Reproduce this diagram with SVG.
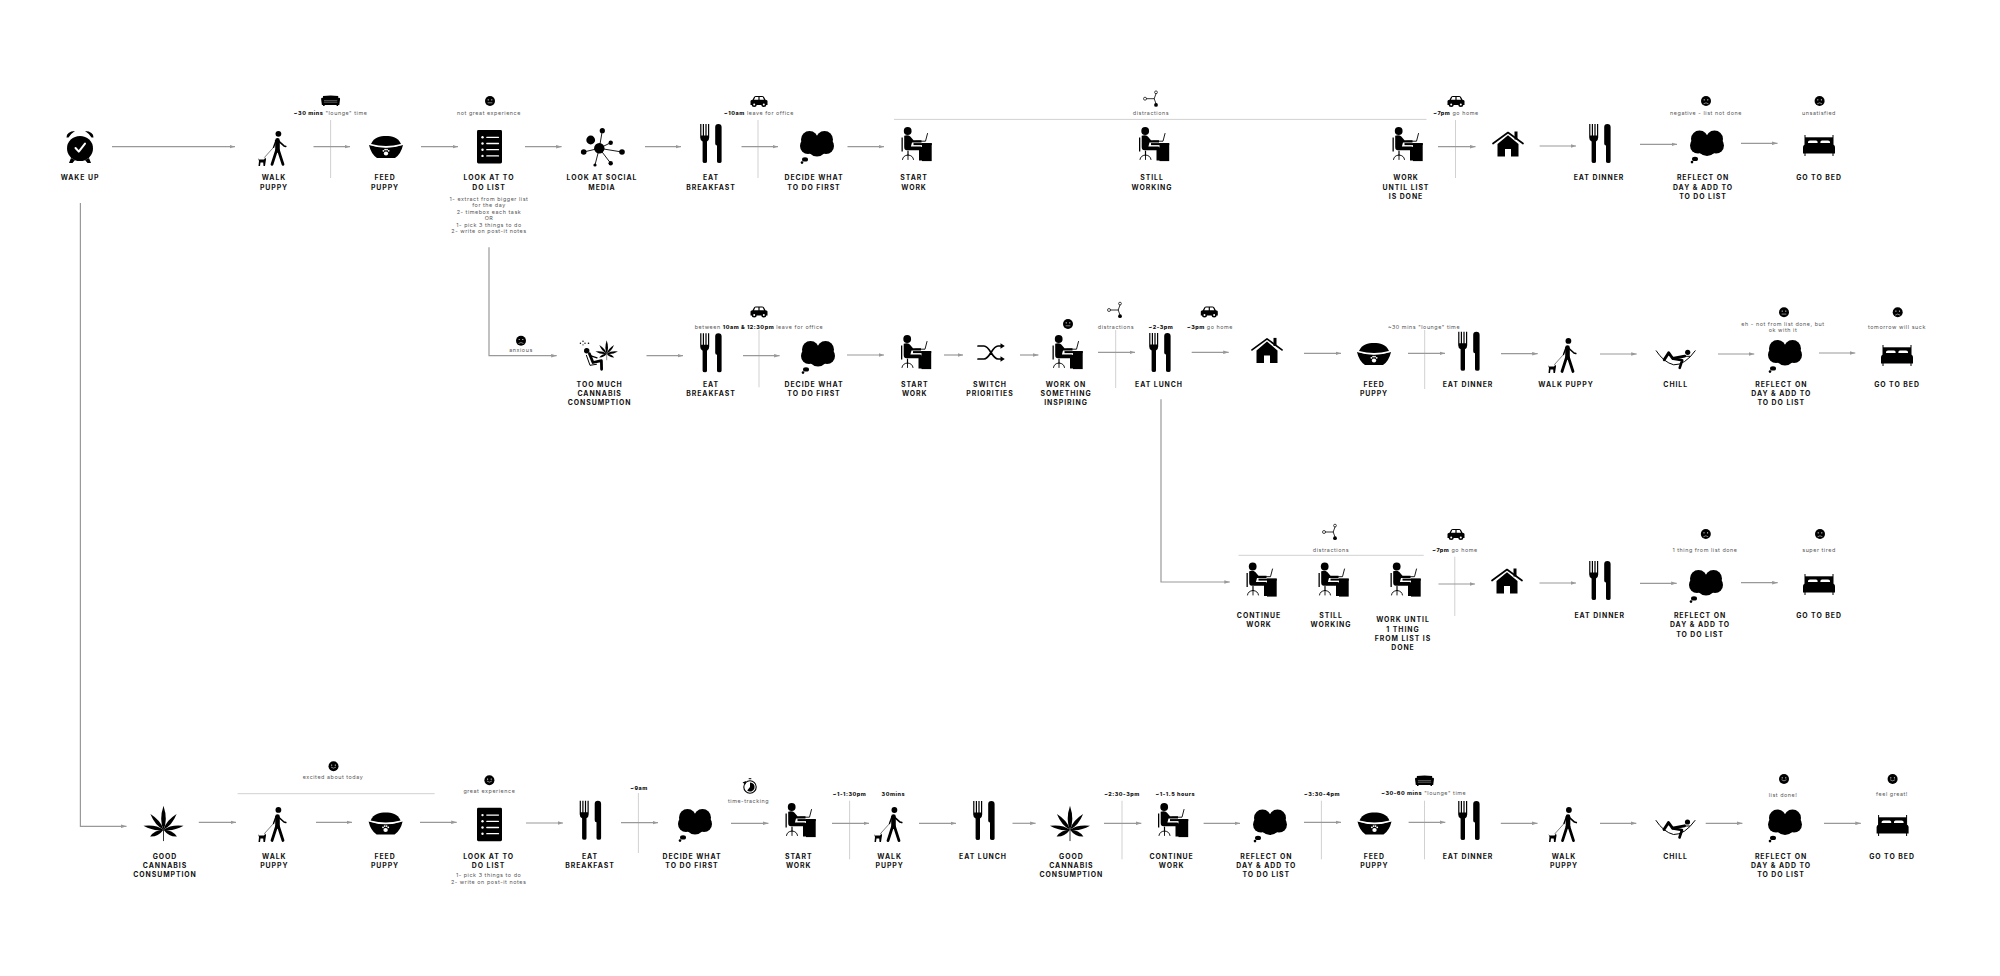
<svg xmlns="http://www.w3.org/2000/svg" width="2000" height="976" viewBox="0 0 2000 976">
<style>
text{font-family:Inter,"Liberation Sans",sans-serif;text-anchor:middle}
.l{font-size:6.9px;font-weight:700;letter-spacing:.95px;fill:#111}
.s{font-size:5.4px;font-weight:400;letter-spacing:.55px;fill:#555}
.s tspan.b,.b{font-weight:800;fill:#111}
.c line,.c path{fill:none;stroke:#999;stroke-width:1.2}
.c .a{marker-end:url(#ah)}
.c .t,.c .h{stroke:#ccc;stroke-width:.9}
.k{fill:none;stroke:#000;stroke-linecap:round;stroke-linejoin:round}
.w{fill:#fff}
.wk{fill:none;stroke:#fff;stroke-linecap:round;stroke-linejoin:round}
</style>
<defs>
<marker id="ah" markerUnits="userSpaceOnUse" markerWidth="6" markerHeight="4" refX="5.5" refY="2" orient="auto"><path d="M0 0.2L5.5 2L0 3.8Z" fill="#999"/></marker>
<g id="i-clock"><ellipse cy="1.5" rx="13" ry="12.6"/><path d="M-13.5 -9.5Q-13.5 -15.5 -5 -16Q-9 -13.5 -11.5 -9.5ZM13.5 -9.5Q13.5 -15.5 5 -16Q9 -13.5 11.5 -9.5Z"/><path d="M-9 11L-11 16H-7.5L-5 13ZM9 11L11 16H7.5L5 13Z"/><path class="wk" stroke-width="2" d="M-4.5 1L-1.2 4.6L5 -3.4"/></g>
<g id="i-walk"><circle cx="6.4" cy="-14.6" r="2.9"/><path class="k" stroke-width="4.6" d="M5.5 -8L5.5 2"/><path class="k" stroke-width="2.8" d="M4.5 2L0 16M6.5 2L11 16"/><path class="k" stroke-width="1.6" d="M7 -7L12 -2.5L13.8 -2"/><path class="k" stroke-width="1.4" d="M4 -8L1.5 -1"/><path class="k" stroke-width=".5" d="M1.5 -1L-7.5 9"/><path d="M-14 9.5L-13 11H-8L-6.5 9L-6 11L-7 17.5H-8.5L-8.8 14H-11.5L-12 17.5H-13.5L-13 12.5Z"/></g>
<g id="i-bowl"><path d="M-15 -3C-12 -10 -6 -11 0 -11C6 -11 12 -10 15 -3Q0 1 -15 -3Z"/><path d="M-17 -2Q0 3.5 17 -2Q15 7 9 11H-9Q-15 7 -17 -2Z"/><path class="wk" stroke-width=".6" d="M-16.5 -2.5Q0 3 16.5 -2.5"/><ellipse class="w" cx="0" cy="6.5" rx="2.2" ry="2"/><circle class="w" cx="-2.6" cy="3.8" r=".9"/><circle class="w" cx="-.9" cy="2.6" r=".9"/><circle class="w" cx="1" cy="2.6" r=".9"/><circle class="w" cx="2.7" cy="3.8" r=".9"/></g>
<g id="i-list"><rect x="-12.5" y="-16.7" width="25" height="33.4" rx="1.4"/><g class="w"><circle cx="-7" cy="-9.4" r="1.2"/><circle cx="-7" cy="-3.2" r="1.2"/><circle cx="-7" cy="3" r="1.2"/><circle cx="-7" cy="9.2" r="1.2"/></g><path class="wk" stroke-width="1.3" d="M-2.7 -9.4H9M-2.7 -3.2H9M-2.7 3H9M-2.7 9.2H9"/></g>
<g id="i-social"><circle cx="-2.7" cy=".8" r="5.2"/><circle cx="-11.3" cy="-7.5" r="4.4"/><circle cx=".3" cy="-16.8" r="2.6"/><circle cx="8.7" cy="-4.8" r="2.2"/><circle cx="20" cy="4.5" r="2.8"/><circle cx="8.7" cy="15.8" r="2.2"/><circle cx="-7" cy="17.5" r="1.6"/><circle cx="-18.3" cy="4.5" r="2.8"/><path class="k" stroke-width=".9" d="M-2.7 .8L.3 -16.8M-2.7 .8L8.7 -4.8M-2.7 .8L20 4.5M-2.7 .8L8.7 15.8M-2.7 .8L-7 17.5M-2.7 .8L-18.3 4.5"/></g>
<g id="i-fork"><path d="M-10.8 -19.5H-9.6V-8H-8.2V-19.5H-7V-8H-5.6V-19.5H-4.4V-8H-3V-19.5H-1.8V-6Q-1.8 -3 -4 -2V18Q-4 19.5 -6 19.5Q-8.4 19.5 -8.4 18V-2Q-10.8 -3 -10.8 -6Z"/><path d="M4.2 -16.5Q4.2 -19.5 7.4 -19.5Q10.6 -19.5 10.6 -16.5V18Q10.6 19.5 8.4 19.5Q6 19.5 6 18V2Q4.2 2 4.2 0Z"/></g>
<g id="i-think"><circle cx="-7.5" cy="-7.5" r="8.5"/><circle cx="7.5" cy="-7.5" r="8.5"/><circle cx="-9" cy="-1" r="8"/><circle cx="9" cy="-1" r="8"/><circle cx="0" cy="0" r="9.6"/><ellipse cx="-12" cy="12.4" rx="3" ry="2.2"/><circle cx="-15" cy="15.6" r="1.3"/></g>
<g id="i-desk"><circle cx="-8.8" cy="-13" r="3.9"/><rect x="-15" y="-6.5" width="1.3" height="14"/><path d="M-12.3 -8.2Q-8.5 -9.6 -6.2 -7.4L-3 -3.8H5V-1.6H-4.5L-5.6 2.6H4Q6 2.6 6 4.6V13H8.5V16.5H2.5V6.2H-9.5Q-12.3 6.2 -12.3 3Z"/><rect x="-3" y="-.9" width="18.2" height="2"/><rect x="5.5" y="-.9" width="9.7" height="18"/><path class="k" stroke-width=".9" d="M-.5 -2.8H9L11 -10.5"/><path class="k" stroke-width="1.2" d="M-8.5 7V11"/><path class="k" stroke-width=".9" d="M-14 15.5Q-13.5 11.5 -8.5 11Q-3.5 11.5 -3 15.5M-8.5 11V15.5"/></g>
<g id="i-dist"><circle class="w" cx="-6" cy="0" r="1.5" stroke="#000" stroke-width=".7"/><circle class="w" cx="5" cy="-6.4" r="1.4" stroke="#000" stroke-width=".7"/><circle cx="5" cy="6.2" r="1.9"/><path class="k" stroke-width=".8" d="M-4.5 0H3.2M5 -5L3.2 0L5 5"/></g>
<g id="i-car"><path d="M-8.5 3.4V-.6Q-8.5 -1.6 -6.5 -1.8L-5 -4.6Q-4.4 -5.4 -3 -5.4H3Q4.4 -5.4 5 -4.6L6.5 -1.8Q8.5 -1.6 8.5 -.6V3.4Z"/><path class="w" d="M-3.7 -4.4H-.6V-1.8H-5ZM.6 -4.4H3.7L5 -1.8H.6Z"/><circle cx="-4.8" cy="3" r="2.5"/><circle cx="4.8" cy="3" r="2.5"/><circle class="w" cx="-4.8" cy="3" r="1"/><circle class="w" cx="4.8" cy="3" r="1"/></g>
<g id="i-sofa"><path d="M-7.6 -5Q0 -5.8 7.6 -5L7.8 1H-7.8Z"/><path d="M-9.5 -2Q-9.5 -3.4 -8 -3.2Q-6.6 -3 -6.7 -1V1.2H6.7V-1Q6.6 -3 8 -3.2Q9.5 -3.4 9.5 -2L8.7 4H-8.7Z"/><path class="wk" stroke-width=".45" d="M-6.2 -.2H6.2"/><rect x="-7.5" y="4" width="1.5" height="1"/><rect x="6" y="4" width="1.5" height="1"/></g>
<g id="f-smile"><circle r="5"/><circle class="w" cx="-1.8" cy="-1.2" r=".6"/><circle class="w" cx="1.8" cy="-1.2" r=".6"/><path class="wk" stroke-width=".5" d="M-2.2 1Q0 3 2.2 1"/></g>
<g id="f-flat"><circle r="5"/><circle class="w" cx="-1.8" cy="-1.2" r=".6"/><circle class="w" cx="1.8" cy="-1.2" r=".6"/><path class="wk" stroke-width=".5" d="M-2 1.8H2"/></g>
<g id="f-sad"><circle r="5"/><circle class="w" cx="-1.8" cy="-1.2" r=".6"/><circle class="w" cx="1.8" cy="-1.2" r=".6"/><path class="wk" stroke-width=".5" d="M-2.2 2.6Q0 .8 2.2 2.6"/></g>
<g id="i-house"><rect x="6.5" y="-12.5" width="3" height="8"/><path d="M-10.5 0L0 -8.8L10.5 0V12.5H3V5H-3V12.5H-10.5Z"/><path class="k" stroke-width="1.7" d="M-15 -.5L0 -11.5L15 -.5"/></g>
<g id="i-bed"><rect x="-14.5" y="-10.5" width="1" height="21"/><rect x="13.5" y="-10.5" width="1" height="21"/><rect x="-14" y="-8.2" width="28" height="9"/><path class="w" d="M-11 -3.5Q-11 -5 -9 -5H-3Q-1.4 -5 -1.4 -3.5V-2.4H-11ZM1.4 -3.5Q1.4 -5 3 -5H9Q11 -5 11 -3.5V-2.4H1.4Z"/><path d="M-16 2Q-16 -1 -13 -1H13Q16 -1 16 2V8H-16Z"/></g>
<g id="i-leaf"><g transform="translate(0 6.5)"><path d="M0 0Q-4.6 -10 0 -24Q4.6 -10 0 0Z"/><path d="M0 0Q-4.6 -10 0 -24Q4.6 -10 0 0Z" transform="rotate(40) scale(.85)"/><path d="M0 0Q-4.6 -10 0 -24Q4.6 -10 0 0Z" transform="rotate(-40) scale(.85)"/><path d="M0 0Q-4.6 -10 0 -24Q4.6 -10 0 0Z" transform="rotate(79) scale(.85)"/><path d="M0 0Q-4.6 -10 0 -24Q4.6 -10 0 0Z" transform="rotate(-79) scale(.85)"/><path d="M0 0Q-4 -8 0 -15Q4 -8 0 0Z" transform="rotate(117)"/><path d="M0 0Q-4 -8 0 -15Q4 -8 0 0Z" transform="rotate(-117)"/><path class="k" stroke-width=".8" d="M0 0V11"/></g></g>
<g id="i-shuffle"><path class="k" stroke-width="1.7" d="M-13 -6.5H-7C-1 -6.5 1 6.5 7 6.5H10M-13 6.5H-7C-1 6.5 1 -6.5 7 -6.5H10"/><path d="M9.5 -9.2L13.8 -6.5L9.5 -3.8ZM9.5 3.8L13.8 6.5L9.5 9.2Z"/></g>
<g id="i-hammock"><path class="k" stroke-width="1" d="M-19.5 -8.5Q-12 3 -2 5.5Q9 6 19.5 -8.5"/><circle cx="12" cy="-7" r="2.6"/><path class="k" stroke-width="2.9" d="M9 -3.2L-3 -.8L-7 -6.5L-11.5 .5"/><path class="k" stroke-width="2.6" d="M-2.5 -.5L6.5 1L4 8.5"/><path class="k" stroke-width="1" d="M8 -3L14 -3"/></g>
<g id="i-stop"><circle cy="1" r="6.2" class="w" stroke="#000" stroke-width="1.1"/><path d="M0 -3.6A4.6 4.6 0 1 1 -2.8 4.6L0 1Z"/><rect x="-1.3" y="-7.8" width="2.6" height="1"/><path d="M-7.5 -3.5L-4 -5L-4.5 -1.5Z"/></g>
<g id="i-much"><circle cx="-11.3" cy="-3.6" r="2.7"/><path class="k" stroke-width="2.8" d="M-8.6 -.6L-5 8.2L3.4 6.4L3.6 15"/><path class="k" stroke-width="1" d="M-11.6 1L-8 11L-1.5 10"/><path class="k" stroke-width="1.3" d="M-7 1.5L-1 3.5"/><g transform="translate(8.7 -4.3) scale(.56)"><use href="#i-leaf"/></g><circle cx="-17.6" cy="-11" r=".7"/><circle cx="-15" cy="-13" r=".7"/><circle cx="-13" cy="-11" r=".7"/><circle cx="-9.5" cy="-11" r=".8"/><circle cx="-15" cy="-9.5" r=".6"/></g>
</defs>

<rect width="2000" height="976" fill="#fff"/>

<g id="connectors" class="c">
<line class="a" x1="112" y1="146.7" x2="235" y2="146.7"/>
<line class="t" x1="330.6" y1="120" x2="330.6" y2="178"/><line class="a" x1="313.5" y1="146.7" x2="350" y2="146.7"/>
<line class="a" x1="421" y1="146.7" x2="458" y2="146.7"/>
<line class="a" x1="525" y1="146.7" x2="561.6" y2="146.7"/>
<line class="a" x1="645" y1="146.7" x2="681" y2="146.7"/>
<line class="t" x1="758" y1="120" x2="758" y2="178"/><line class="a" x1="741.5" y1="146.7" x2="778" y2="146.7"/>
<line class="a" x1="847.5" y1="146.7" x2="884" y2="146.7"/>
<line class="h" x1="894" y1="119.4" x2="1426.5" y2="119.4"/>
<line class="t" x1="1455.5" y1="120" x2="1455.5" y2="178"/><line class="a" x1="1438" y1="146.7" x2="1475.5" y2="146.7"/>
<line class="a" x1="1539.6" y1="146" x2="1576" y2="146"/>
<line class="a" x1="1640" y1="144.3" x2="1677" y2="144.3"/>
<line class="a" x1="1741" y1="143.3" x2="1777.5" y2="143.3"/>
<path class="a" d="M80.4 203V826.3H126.5"/>
<path class="a" d="M489 247.3V355.7H556.7"/>
<line class="a" x1="646.5" y1="355.7" x2="683" y2="355.7"/>
<line class="t" x1="759" y1="330" x2="759" y2="387.3"/><line class="a" x1="743" y1="355.7" x2="779.6" y2="355.7"/>
<line class="a" x1="847" y1="355" x2="884" y2="355"/>
<line class="a" x1="944" y1="355" x2="963" y2="355"/>
<line class="a" x1="1020" y1="355" x2="1038.4" y2="355"/>
<line class="t" x1="1115.7" y1="330" x2="1115.7" y2="388"/><line class="a" x1="1098" y1="352.3" x2="1135" y2="352.3"/>
<line class="a" x1="1191.7" y1="352.3" x2="1228.7" y2="352.3"/>
<line class="a" x1="1304" y1="353.3" x2="1341" y2="353.3"/>
<line class="t" x1="1424.7" y1="330" x2="1424.7" y2="389"/><line class="a" x1="1408" y1="353.3" x2="1445" y2="353.3"/>
<line class="a" x1="1501" y1="353.7" x2="1537.7" y2="353.7"/>
<line class="a" x1="1600" y1="354" x2="1636.7" y2="354"/>
<line class="a" x1="1718" y1="354" x2="1754.3" y2="354"/>
<line class="a" x1="1819" y1="353" x2="1855.3" y2="353"/>
<path class="a" d="M1161 399.3V582H1229.8"/>
<line class="h" x1="1238.5" y1="555.3" x2="1423.7" y2="555.3"/>
<line class="t" x1="1454.8" y1="556.7" x2="1454.8" y2="616"/><line class="a" x1="1438.5" y1="584" x2="1475" y2="584"/>
<line class="a" x1="1539.5" y1="583" x2="1576" y2="583"/>
<line class="a" x1="1640" y1="583.3" x2="1676.7" y2="583.3"/>
<line class="a" x1="1741" y1="582.7" x2="1777.7" y2="582.7"/>
<line class="a" x1="198.8" y1="822.3" x2="236" y2="822.3"/>
<line class="h" x1="237.6" y1="793.7" x2="434.7" y2="793.7"/>
<line class="a" x1="316" y1="822.3" x2="352" y2="822.3"/>
<line class="a" x1="420" y1="822.3" x2="456.7" y2="822.3"/>
<line class="a" x1="526" y1="823" x2="563" y2="823"/>
<line class="t" x1="638.4" y1="793" x2="638.4" y2="853"/><line class="a" x1="621" y1="822.7" x2="658" y2="822.7"/>
<line class="a" x1="731" y1="823.3" x2="768.4" y2="823.3"/>
<line class="t" x1="849.6" y1="800.7" x2="849.6" y2="859.3"/><line class="a" x1="832" y1="823.3" x2="869" y2="823.3"/>
<line class="a" x1="919" y1="823.3" x2="956" y2="823.3"/>
<line class="a" x1="1012.5" y1="823.3" x2="1035.6" y2="823.3"/>
<line class="t" x1="1122" y1="800.7" x2="1122" y2="859.3"/><line class="a" x1="1104" y1="823.3" x2="1141.3" y2="823.3"/>
<line class="a" x1="1203.6" y1="823.3" x2="1240" y2="823.3"/>
<line class="t" x1="1321.4" y1="800.7" x2="1321.4" y2="859.3"/><line class="a" x1="1304" y1="822.3" x2="1341" y2="822.3"/>
<line class="t" x1="1424.5" y1="800.7" x2="1424.5" y2="859.3"/><line class="a" x1="1408.6" y1="822.3" x2="1445.3" y2="822.3"/>
<line class="a" x1="1500.8" y1="823.3" x2="1537.5" y2="823.3"/>
<line class="a" x1="1600" y1="823.3" x2="1636.3" y2="823.3"/>
<line class="a" x1="1705.7" y1="823.3" x2="1742.4" y2="823.3"/>
<line class="a" x1="1824" y1="823.3" x2="1860.8" y2="823.3"/>
</g>

<g id="n-wake"><use href="#i-clock" x="80" y="147"/><text class="l" x="80" y="180.4">WAKE UP</text></g>
<g id="n-walk1"><use href="#i-walk" x="272" y="148.4"/><text class="l" x="274" y="180.4">WALK<tspan x="274" dy="9.3">PUPPY</tspan></text></g>
<g id="n-feed1"><use href="#i-bowl" x="386" y="147"/><text class="l" x="385" y="180.4">FEED<tspan x="385" dy="9.3">PUPPY</tspan></text></g>
<g id="n-list1"><use href="#i-list" x="489.5" y="146.7"/><text class="l" x="489" y="180.4">LOOK AT TO<tspan x="489" dy="9.3">DO LIST</tspan></text>
<text class="s" x="489" y="200.5">1- extract from bigger list<tspan x="489" dy="6.55">for the day</tspan><tspan x="489" dy="6.55">2- timebox each task</tspan><tspan x="489" dy="6.55">OR</tspan><tspan x="489" dy="6.55">1- pick 3 things to do</tspan><tspan x="489" dy="6.55">2- write on post-it notes</tspan></text></g>
<g id="n-social"><use href="#i-social" x="602" y="147.5"/><text class="l" x="602" y="180.4">LOOK AT SOCIAL<tspan x="602" dy="9.3">MEDIA</tspan></text></g>
<g id="n-eat1"><use href="#i-fork" x="711" y="143.5"/><text class="l" x="711" y="180.4">EAT<tspan x="711" dy="9.3">BREAKFAST</tspan></text></g>
<g id="n-decide1"><use href="#i-think" x="817" y="147"/><text class="l" x="814" y="180.4">DECIDE WHAT<tspan x="814" dy="9.3">TO DO FIRST</tspan></text></g>
<g id="n-start1"><use href="#i-desk" x="916.5" y="144"/><text class="l" x="914" y="180.4">START<tspan x="914" dy="9.3">WORK</tspan></text></g>
<g id="n-still1"><use href="#i-desk" x="1154" y="144"/><text class="l" x="1152" y="180.4">STILL<tspan x="1152" dy="9.3">WORKING</tspan></text></g>
<g id="n-until1"><use href="#i-desk" x="1407.5" y="144"/><text class="l" x="1406" y="180.4">WORK<tspan x="1406" dy="9.3">UNTIL LIST</tspan><tspan x="1406" dy="9.5">IS DONE</tspan></text></g>
<g id="n-home1"><use href="#i-house" x="1508" y="144"/></g>
<g id="n-dinner1"><use href="#i-fork" x="1600" y="143.5"/><text class="l" x="1599" y="180.4">EAT DINNER</text></g>
<g id="n-reflect1"><use href="#i-think" x="1707" y="146.5"/><text class="l" x="1703" y="180.4">REFLECT ON<tspan x="1703" dy="9.3">DAY &amp; ADD TO</tspan><tspan x="1703" dy="9.5">TO DO LIST</tspan></text></g>
<g id="n-bed1"><use href="#i-bed" x="1819" y="145.5"/><text class="l" x="1819" y="180.4">GO TO BED</text></g>
<g id="a-1"><use href="#i-sofa" x="330.6" y="101"/><text class="s" x="330.6" y="114.6"><tspan class="b">~30 mins</tspan> "lounge" time</text></g>
<g id="a-2"><use href="#f-flat" x="490" y="101"/><text class="s" x="489" y="114.6">not great experience</text></g>
<g id="a-3"><use href="#i-car" x="759" y="101.5"/><text class="s" x="759" y="114.6"><tspan class="b">~10am</tspan> leave for office</text></g>
<g id="a-4"><use href="#i-dist" x="1151" y="98.7"/><text class="s" x="1151" y="114.6">distractions</text></g>
<g id="a-5"><use href="#i-car" x="1456" y="101.5"/><text class="s" x="1456" y="114.6"><tspan class="b">~7pm</tspan> go home</text></g>
<g id="a-6"><use href="#f-sad" x="1706" y="101"/><text class="s" x="1706" y="114.6">negative - list not done</text></g>
<g id="a-7"><use href="#f-sad" x="1819.6" y="101"/><text class="s" x="1819" y="114.6">unsatisfied</text></g>

<g id="n-much"><use href="#i-much" x="598" y="354.3"/><text class="l" x="599.6" y="387">TOO MUCH<tspan x="599.6" dy="9.2">CANNABIS</tspan><tspan x="599.6" dy="9.2">CONSUMPTION</tspan></text></g>
<g id="n-eat2"><use href="#i-fork" x="711" y="352.8"/><text class="l" x="711" y="387">EAT<tspan x="711" dy="9.2">BREAKFAST</tspan></text></g>
<g id="n-decide2"><use href="#i-think" x="818" y="357"/><text class="l" x="814" y="387">DECIDE WHAT<tspan x="814" dy="9.2">TO DO FIRST</tspan></text></g>
<g id="n-start2"><use href="#i-desk" x="916" y="352"/><text class="l" x="914.7" y="387">START<tspan x="914.7" dy="9.2">WORK</tspan></text></g>
<g id="n-switch"><use href="#i-shuffle" x="991" y="352.5"/><text class="l" x="990" y="387">SWITCH<tspan x="990" dy="9.2">PRIORITIES</tspan></text></g>
<g id="n-inspire"><use href="#i-desk" x="1067.5" y="352"/><text class="l" x="1066" y="387">WORK ON<tspan x="1066" dy="9.2">SOMETHING</tspan><tspan x="1066" dy="9.2">INSPIRING</tspan></text></g>
<g id="n-lunch1"><use href="#i-fork" x="1160" y="352.5"/><text class="l" x="1159" y="387">EAT LUNCH</text></g>
<g id="n-home2"><use href="#i-house" x="1267" y="350.4"/></g>
<g id="n-feed2"><use href="#i-bowl" x="1374" y="354"/><text class="l" x="1374" y="387">FEED<tspan x="1374" dy="9.2">PUPPY</tspan></text></g>
<g id="n-dinner2"><use href="#i-fork" x="1469" y="351.2"/><text class="l" x="1468" y="387">EAT DINNER</text></g>
<g id="n-walk2"><use href="#i-walk" x="1562" y="355.5"/><text class="l" x="1566" y="387">WALK PUPPY</text></g>
<g id="n-chill1"><use href="#i-hammock" x="1675.7" y="359.3"/><text class="l" x="1675.7" y="387">CHILL</text></g>
<g id="n-reflect2"><use href="#i-think" x="1785" y="356"/><text class="l" x="1781.3" y="387">REFLECT ON<tspan x="1781.3" dy="9.2">DAY &amp; ADD TO</tspan><tspan x="1781.3" dy="9.2">TO DO LIST</tspan></text></g>
<g id="n-bed2"><use href="#i-bed" x="1897" y="355.5"/><text class="l" x="1897" y="387">GO TO BED</text></g>
<g id="a-8"><use href="#f-sad" x="521" y="340.7"/><text class="s" x="521" y="351.8">anxious</text></g>
<g id="a-9"><use href="#i-car" x="759" y="312"/><text class="s" x="759" y="328.8">between <tspan class="b">10am &amp; 12:30pm</tspan> leave for office</text></g>
<g id="a-10"><use href="#f-flat" x="1068" y="324"/></g>
<g id="a-11"><use href="#i-dist" x="1115" y="310"/><text class="s" x="1116" y="328.8">distractions</text></g>
<g id="a-12"><text class="s" x="1161" y="328.8"><tspan class="b">~2-3pm</tspan></text></g>
<g id="a-13"><use href="#i-car" x="1209.3" y="312"/><text class="s" x="1210" y="328.8"><tspan class="b">~3pm</tspan> go home</text></g>
<g id="a-14"><text class="s" x="1424" y="328.8">~30 mins "lounge" time</text></g>
<g id="a-15"><use href="#f-flat" x="1784" y="312.3"/><text class="s" x="1783" y="325.5">eh - not from list done, but<tspan x="1783" dy="6.4">ok with it</tspan></text></g>
<g id="a-16"><use href="#f-sad" x="1897.7" y="312.3"/><text class="s" x="1897" y="328.8">tomorrow will suck</text></g>

<g id="n-continue1"><use href="#i-desk" x="1261.5" y="579.5"/><text class="l" x="1259" y="618">CONTINUE<tspan x="1259" dy="9.3">WORK</tspan></text></g>
<g id="n-still2"><use href="#i-desk" x="1333.5" y="579.5"/><text class="l" x="1331" y="618">STILL<tspan x="1331" dy="9.3">WORKING</tspan></text></g>
<g id="n-until2"><use href="#i-desk" x="1405.5" y="579.5"/><text class="l" x="1403" y="622.4">WORK UNTIL<tspan x="1403" dy="9.3">1 THING</tspan><tspan x="1403" dy="9.3">FROM LIST IS</tspan><tspan x="1403" dy="9.3">DONE</tspan></text></g>
<g id="n-home3"><use href="#i-house" x="1507" y="581"/></g>
<g id="n-dinner3"><use href="#i-fork" x="1600" y="580.5"/><text class="l" x="1599.7" y="618">EAT DINNER</text></g>
<g id="n-reflect3"><use href="#i-think" x="1706" y="586"/><text class="l" x="1700" y="618">REFLECT ON<tspan x="1700" dy="9.3">DAY &amp; ADD TO</tspan><tspan x="1700" dy="9.3">TO DO LIST</tspan></text></g>
<g id="n-bed3"><use href="#i-bed" x="1819" y="584.5"/><text class="l" x="1819" y="618">GO TO BED</text></g>
<g id="a-17"><use href="#i-dist" x="1330" y="532"/><text class="s" x="1331" y="551.5">distractions</text></g>
<g id="a-18"><use href="#i-car" x="1456" y="534.5"/><text class="s" x="1455" y="551.5"><tspan class="b">~7pm</tspan> go home</text></g>
<g id="a-19"><use href="#f-sad" x="1705.8" y="534"/><text class="s" x="1705" y="551.5">1 thing from list done</text></g>
<g id="a-20"><use href="#f-sad" x="1820" y="534"/><text class="s" x="1819" y="551.5">super tired</text></g>

<g id="n-good1"><use href="#i-leaf" x="163.5" y="823.2"/><text class="l" x="165" y="859">GOOD<tspan x="165" dy="9.2">CANNABIS</tspan><tspan x="165" dy="9.2">CONSUMPTION</tspan></text></g>
<g id="n-walk3"><use href="#i-walk" x="272" y="824.5"/><text class="l" x="274.3" y="859">WALK<tspan x="274.3" dy="9.2">PUPPY</tspan></text></g>
<g id="n-feed3"><use href="#i-bowl" x="385.6" y="823.5"/><text class="l" x="385" y="859">FEED<tspan x="385" dy="9.2">PUPPY</tspan></text></g>
<g id="n-list2"><use href="#i-list" x="489.5" y="824.5"/><text class="l" x="488.6" y="859">LOOK AT TO<tspan x="488.6" dy="9.2">DO LIST</tspan></text><text class="s" x="488.6" y="877.2">1- pick 3 things to do<tspan x="488.6" dy="6.6">2- write on post-it notes</tspan></text></g>
<g id="n-eat3"><use href="#i-fork" x="590.5" y="820.3"/><text class="l" x="590" y="859">EAT<tspan x="590" dy="9.2">BREAKFAST</tspan></text></g>
<g id="n-decide3"><use href="#i-think" x="695" y="825"/><text class="l" x="692" y="859">DECIDE WHAT<tspan x="692" dy="9.2">TO DO FIRST</tspan></text></g>
<g id="n-start3"><use href="#i-desk" x="800.5" y="820"/><text class="l" x="798.7" y="859">START<tspan x="798.7" dy="9.2">WORK</tspan></text></g>
<g id="n-walk4"><use href="#i-walk" x="888" y="824.6"/><text class="l" x="889.6" y="859">WALK<tspan x="889.6" dy="9.2">PUPPY</tspan></text></g>
<g id="n-lunch2"><use href="#i-fork" x="984" y="820.5"/><text class="l" x="983" y="859">EAT LUNCH</text></g>
<g id="n-good2"><use href="#i-leaf" x="1070" y="823.2"/><text class="l" x="1071.4" y="859">GOOD<tspan x="1071.4" dy="9.2">CANNABIS</tspan><tspan x="1071.4" dy="9.2">CONSUMPTION</tspan></text></g>
<g id="n-continue2"><use href="#i-desk" x="1173" y="820"/><text class="l" x="1171.6" y="859">CONTINUE<tspan x="1171.6" dy="9.2">WORK</tspan></text></g>
<g id="n-reflect4"><use href="#i-think" x="1270" y="825.5"/><text class="l" x="1266.3" y="859">REFLECT ON<tspan x="1266.3" dy="9.2">DAY &amp; ADD TO</tspan><tspan x="1266.3" dy="9.2">TO DO LIST</tspan></text></g>
<g id="n-feed4"><use href="#i-bowl" x="1374.5" y="823.5"/><text class="l" x="1374.3" y="859">FEED<tspan x="1374.3" dy="9.2">PUPPY</tspan></text></g>
<g id="n-dinner4"><use href="#i-fork" x="1469" y="820.5"/><text class="l" x="1468" y="859">EAT DINNER</text></g>
<g id="n-walk5"><use href="#i-walk" x="1562.5" y="824.6"/><text class="l" x="1564" y="859">WALK<tspan x="1564" dy="9.2">PUPPY</tspan></text></g>
<g id="n-chill2"><use href="#i-hammock" x="1675.5" y="829"/><text class="l" x="1675.5" y="859">CHILL</text></g>
<g id="n-reflect5"><use href="#i-think" x="1785" y="825.5"/><text class="l" x="1781" y="859">REFLECT ON<tspan x="1781" dy="9.2">DAY &amp; ADD TO</tspan><tspan x="1781" dy="9.2">TO DO LIST</tspan></text></g>
<g id="n-bed4"><use href="#i-bed" x="1892.6" y="825.5"/><text class="l" x="1892" y="859">GO TO BED</text></g>
<g id="a-21"><use href="#f-smile" x="333.5" y="766.3"/><text class="s" x="333" y="778.8">excited about today</text></g>
<g id="a-22"><use href="#f-smile" x="489.4" y="780.3"/><text class="s" x="489.4" y="792.8">great experience</text></g>
<g id="a-23"><text class="s" x="639" y="789.5"><tspan class="b">~9am</tspan></text></g>
<g id="a-24"><use href="#i-stop" x="750" y="786"/><text class="s" x="748.6" y="802.5">time-tracking</text></g>
<g id="a-25"><text class="s" x="849.6" y="795.5"><tspan class="b">~1-1:30pm</tspan></text></g>
<g id="a-26"><text class="s" x="893.4" y="795.5"><tspan class="b">30mins</tspan></text></g>
<g id="a-27"><text class="s" x="1122" y="795.5"><tspan class="b">~2:30-3pm</tspan></text></g>
<g id="a-28"><text class="s" x="1175.4" y="795.5"><tspan class="b">~1-1.5 hours</tspan></text></g>
<g id="a-29"><text class="s" x="1322" y="795.5"><tspan class="b">~3:30-4pm</tspan></text></g>
<g id="a-30"><use href="#i-sofa" x="1424.5" y="781"/><text class="s" x="1423.7" y="795.2"><tspan class="b">~30-60 mins</tspan> "lounge" time</text></g>
<g id="a-31"><use href="#f-smile" x="1784" y="779"/><text class="s" x="1783" y="796.8">list done!</text></g>
<g id="a-32"><use href="#f-smile" x="1892.6" y="779"/><text class="s" x="1892" y="795.5">feel great!</text></g>
</svg>
